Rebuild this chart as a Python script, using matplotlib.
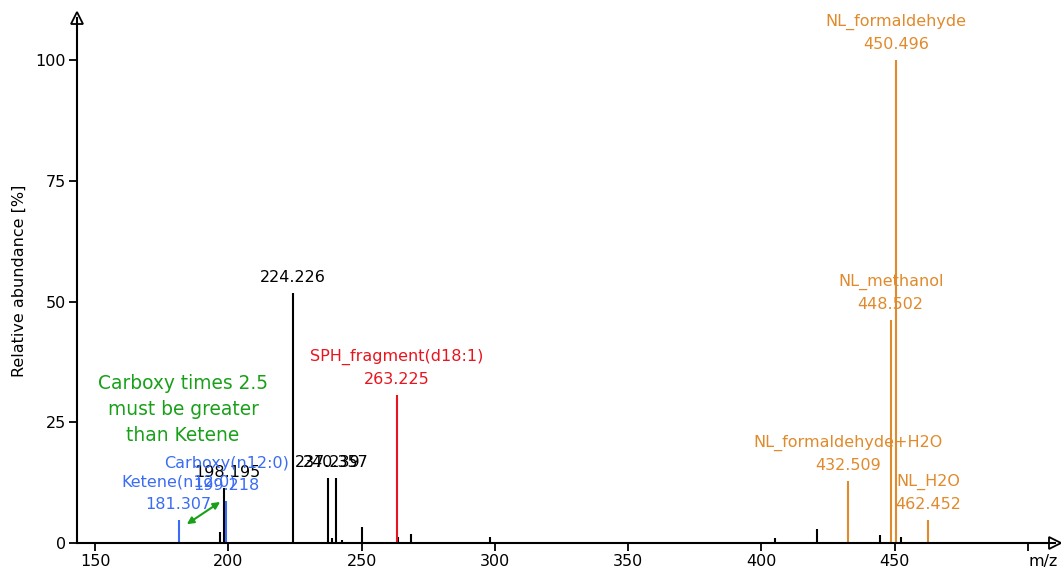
import numpy as np
import matplotlib
matplotlib.use("Agg")
import matplotlib.pyplot as plt

plt.rcParams['font.family'] = ['DejaVu Sans']

# unannotated peaks (m/z, relative abundance)
other_mz = [196.9, 239.0, 242.7, 250.1, 263.6, 268.4, 298.2, 405.2, 421.0, 444.3, 452.4]
other_int = [2.3, 1.0, 0.6, 3.3, 1.2, 1.9, 1.3, 1.0, 3.0, 1.7, 1.3]

# annotated peaks
black_mz = [198.195, 224.226, 237.239, 240.357]
black_int = [11.3, 51.8, 13.4, 13.4]
black_lab = ["198.195", "224.226", "237.239", "240.357"]

blue_mz = [181.307, 199.218]
blue_int = [4.8, 8.7]
blue_lab = ["Ketene(n12:0)\n181.307", "Carboxy(n12:0)\n199.218"]

red_mz = [263.225]
red_int = [30.6]
red_lab = ["SPH_fragment(d18:1)\n263.225"]

orange_mz = [432.509, 448.502, 450.496, 462.452]
orange_int = [12.8, 46.2, 100.0, 4.8]
orange_lab = ["NL_formaldehyde+H2O\n432.509", "NL_methanol\n448.502",
              "NL_formaldehyde\n450.496", "NL_H2O\n462.452"]

note_text = "Carboxy times 2.5\nmust be greater\nthan Ketene"

BLACK = "#000000"
BLUE = "#3a6cf4"
RED = "#e8141e"
ORANGE = "#e08a2c"
GREEN = "#18a018"

fig = plt.figure(figsize=(10.61, 5.67), dpi=100)
ax = fig.add_axes([0.0726, 0.0423, 0.9214, 0.9257])
ax.set_xlim(143.2, 510)
ax.set_ylim(0, 108.7)

ax.vlines(other_mz, 0, other_int, color=BLACK, lw=1.5)

groups = [(black_mz, black_int, black_lab, BLACK),
          (blue_mz, blue_int, blue_lab, BLUE),
          (red_mz, red_int, red_lab, RED),
          (orange_mz, orange_int, orange_lab, ORANGE)]
for mz, inten, labs, col in groups:
    ax.vlines(mz, 0, inten, color=col, lw=1.5)
    for m, i, lab in zip(mz, inten, labs):
        dx = 3 if lab == "198.195" else 0
        ax.annotate(lab, (m, i), xytext=(dx, 6), textcoords="offset points",
                    ha="center", va="bottom", color=col, fontsize=11.5,
                    linespacing=1.55, annotation_clip=False)

# green note + double arrow
ax.text(183, 27.7, note_text, color=GREEN, fontsize=13.4, ha="center",
        va="center", linespacing=1.45)
ax.annotate("", xy=(184.4, 3.9), xytext=(196.9, 8.5),
            arrowprops=dict(arrowstyle="<|-|>", color=GREEN, lw=1.5,
                            mutation_scale=10, shrinkA=0, shrinkB=0))

# axes styling
for s in ["top", "right"]:
    ax.spines[s].set_visible(False)
for s in ["left", "bottom"]:
    ax.spines[s].set_linewidth(1.5)
ax.plot(1, 0, ">", transform=ax.transAxes, clip_on=False, ms=8,
        mfc="white", mec="black", mew=1.3)
ax.plot(0, 1, "^", transform=ax.transAxes, clip_on=False, ms=8,
        mfc="white", mec="black", mew=1.3)

ax.set_xticks([150, 200, 250, 300, 350, 400, 450, 500])
ax.set_xticklabels(["150", "200", "250", "300", "350", "400", "450", ""])
ax.set_yticks([0, 25, 50, 75, 100])
ax.tick_params(axis="both", labelsize=11.5, width=1.3, length=6, pad=2)
ax.text(505.6, -2.3, "m/z", fontsize=11.5, ha="center", va="top",
        clip_on=False)
ax.set_ylabel("Relative abundance [%]", fontsize=11.5, labelpad=6)

fig.savefig("out.png", dpi=100)
